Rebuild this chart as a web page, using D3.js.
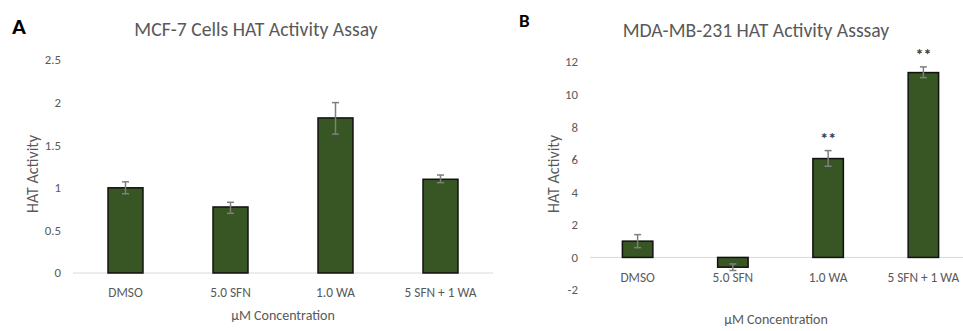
<!DOCTYPE html>
<html>
<head>
<meta charset="utf-8">
<script src="https://cdn.jsdelivr.net/npm/d3@7"></script>
<style>
  body { margin: 0; background: #fff; }
  svg text { font-family: Calibri, Carlito, "Open Sans", sans-serif; }
</style>
</head>
<body>
<svg id="chart" width="963" height="331"></svg>
<script>
const categories = ['DMSO', '5.0 SFN', '1.0 WA', '5 SFN + 1 WA'];

const mcfValues = [1.0, 0.775, 1.82, 1.10];
const mcfErrLow = [0.93, 0.70, 1.63, 1.06];
const mcfErrHigh = [1.07, 0.83, 2.0, 1.15];
const mcfTicks = [0, 0.5, 1, 1.5, 2, 2.5];

const mdaValues = [1.0, -0.6, 6.07, 11.35];
const mdaErrLow = [0.6, -0.8, 5.6, 11.04];
const mdaErrHigh = [1.4, -0.4, 6.56, 11.7];
const mdaTicks = [-2, 0, 2, 4, 6, 8, 10, 12];
const mdaStars = ['', '', '**', '**'];

const svg = d3.select('#chart');
const textGray = '#595959';
const barFill = '#375623';

function drawPanel(cfg) {
  const g = svg.append('g');

  const x = d3.scaleBand()
    .domain(categories)
    .range([cfg.left, cfg.right])
    .paddingInner(cfg.pad)
    .paddingOuter(cfg.pad / 2);

  const y = d3.scaleLinear()
    .domain(cfg.domain)
    .range([cfg.bottom, cfg.top]);

  // tick labels
  g.selectAll('.ytick')
    .data(cfg.ticks)
    .enter().append('text')
    .attr('x', cfg.left - 12)
    .attr('y', d => y(d))
    .attr('dy', '0.35em')
    .attr('text-anchor', 'end')
    .attr('font-size', 12.8)
    .attr('fill', textGray)
    .text(d => d);

  // zero line
  g.append('line')
    .attr('x1', cfg.left)
    .attr('x2', cfg.right)
    .attr('y1', y(0))
    .attr('y2', y(0))
    .attr('stroke', '#d9d9d9')
    .attr('stroke-width', 1);

  const rows = categories.map((c, i) => ({
    c, v: cfg.values[i], lo: cfg.lo[i], hi: cfg.hi[i], star: cfg.stars ? cfg.stars[i] : ''
  }));

  g.selectAll('.bar')
    .data(rows)
    .enter().append('rect')
    .attr('x', d => x(d.c))
    .attr('y', d => Math.min(y(d.v), y(0)))
    .attr('width', x.bandwidth())
    .attr('height', d => Math.abs(y(d.v) - y(0)))
    .attr('fill', barFill)
    .attr('stroke', '#111')
    .attr('stroke-width', 1.5);

  // error bars
  const eb = g.selectAll('.err')
    .data(rows)
    .enter().append('g')
    .attr('stroke', '#7f7f7f')
    .attr('stroke-width', 1.5);
  eb.append('line')
    .attr('x1', d => x(d.c) + x.bandwidth() / 2)
    .attr('x2', d => x(d.c) + x.bandwidth() / 2)
    .attr('y1', d => y(d.lo))
    .attr('y2', d => y(d.hi));
  eb.append('line')
    .attr('x1', d => x(d.c) + x.bandwidth() / 2 - 3.5)
    .attr('x2', d => x(d.c) + x.bandwidth() / 2 + 3.5)
    .attr('y1', d => y(d.hi))
    .attr('y2', d => y(d.hi));
  eb.append('line')
    .attr('x1', d => x(d.c) + x.bandwidth() / 2 - 3.5)
    .attr('x2', d => x(d.c) + x.bandwidth() / 2 + 3.5)
    .attr('y1', d => y(d.lo))
    .attr('y2', d => y(d.lo));

  // significance marks
  g.selectAll('.star')
    .data(rows.filter(d => d.star))
    .enter().append('text')
    .attr('x', d => x(d.c) + x.bandwidth() / 2)
    .attr('y', d => y(d.hi) - 7)
    .attr('text-anchor', 'middle')
    .attr('font-size', 16)
    .attr('font-weight', 'bold')
    .attr('fill', '#404040')
    .text(d => d.star);

  // category labels
  g.selectAll('.xlab')
    .data(categories)
    .enter().append('text')
    .attr('x', d => x(d) + x.bandwidth() / 2)
    .attr('y', cfg.xLabelY)
    .attr('dy', '0.35em')
    .attr('text-anchor', 'middle')
    .attr('font-size', 13.3)
    .attr('fill', textGray)
    .text(d => d);

  g.append('text')
    .attr('x', cfg.xTitleX)
    .attr('y', cfg.xTitleY)
    .attr('dy', '0.35em')
    .attr('text-anchor', 'middle')
    .attr('font-size', 14)
    .attr('fill', textGray)
    .text('µM Concentration');

  g.append('text')
    .attr('transform', `translate(${cfg.yTitleX},174) rotate(-90)`)
    .attr('dy', '0.35em')
    .attr('text-anchor', 'middle')
    .attr('font-size', 16)
    .attr('fill', textGray)
    .text('HAT Activity');

  g.append('text')
    .attr('x', cfg.titleX)
    .attr('y', cfg.titleY)
    .attr('dy', '0.35em')
    .attr('text-anchor', 'middle')
    .attr('font-size', 19.7)
    .attr('fill', textGray)
    .text(cfg.title);

  g.append('text')
    .attr('x', cfg.letterX)
    .attr('y', cfg.letterY)
    .attr('font-size', cfg.letterSize)
    .attr('font-weight', 'bold')
    .attr('font-family', 'Arial, "Liberation Sans", sans-serif')
    .attr('fill', '#000')
    .text(cfg.letter);
}

drawPanel({
  left: 73, right: 493, top: 60, bottom: 273, pad: 0.667,
  domain: [0, 2.5], ticks: mcfTicks,
  values: mcfValues, lo: mcfErrLow, hi: mcfErrHigh,
  xLabelY: 292, xTitleX: 283, xTitleY: 315, yTitleX: 32,
  title: 'MCF-7 Cells HAT Activity Assay', titleX: 256, titleY: 29,
  letter: 'A', letterX: 12, letterY: 34, letterSize: 23
});

drawPanel({
  left: 590, right: 971, top: 62, bottom: 290, pad: 0.68,
  domain: [-2, 12], ticks: mdaTicks,
  values: mdaValues, lo: mdaErrLow, hi: mdaErrHigh, stars: mdaStars,
  xLabelY: 277, xTitleX: 776, xTitleY: 319, yTitleX: 553,
  title: 'MDA-MB-231 HAT Activity Asssay', titleX: 756, titleY: 30,
  letter: 'B', letterX: 519, letterY: 27, letterSize: 19
});
</script>
</body>
</html>
